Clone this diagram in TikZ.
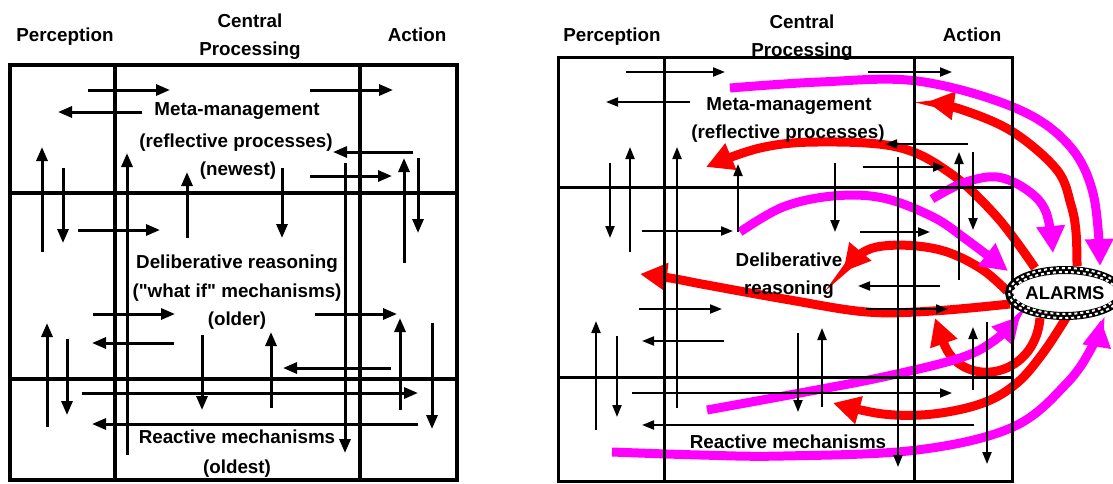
\documentclass[tikz,border=0pt]{standalone}
\usepackage{fontspec}
\setmainfont{Liberation Sans}[Ligatures=TeXOff]
\usetikzlibrary{arrows.meta,shapes.geometric}
\definecolor{mag}{RGB}{255,0,255}
\definecolor{rd}{RGB}{255,0,0}
\begin{document}
\begin{tikzpicture}[x=1pt,y=-1pt,
  lbl/.style={font=\bfseries\fontsize{18.8}{22}\selectfont, inner sep=0pt, anchor=base},
  gridL/.style={line width=4pt},
  arL/.style={line width=3pt,-{Triangle[length=14pt,width=11pt]}},
  gridR/.style={line width=3pt},
  arR/.style={line width=2pt,-{Triangle[length=12pt,width=9pt]}},
  big/.style={line width=9pt,-{Triangle[length=27pt,width=27pt]}},
  sm/.style={smooth,tension=0.6}
]
\useasboundingbox (0,0) rectangle (1113,483);

% ---------------- LEFT PANEL ----------------
\draw[gridL] (10,65) rectangle (457,480);
\draw[gridL] (115,65) -- (115,480);
\draw[gridL] (360,65) -- (360,480);
\draw[gridL] (10,193) -- (457,193);
\draw[gridL] (10,379) -- (457,379);

\draw[arL] (88,90) -- (170,90);
\draw[arL] (142,112) -- (58,112);
\draw[arL] (310,90) -- (393,90);
\draw[arL] (413,152) -- (333,152);
\draw[arL] (310,176) -- (392,176);
\draw[arL] (42,252) -- (42,147);
\draw[arL] (63,168) -- (63,243);
\draw[arL] (127,455) -- (127,153);
\draw[arL] (187,238) -- (187,172);
\draw[arL] (282,168) -- (282,238);
\draw[arL] (345,163) -- (345,453);
\draw[arL] (404,263) -- (404,158);
\draw[arL] (418,158) -- (418,233);
\draw[arL] (78,230) -- (160,230);
\draw[arL] (93,314) -- (175,314);
\draw[arL] (315,314) -- (397,314);
\draw[arL] (47,427) -- (47,323);
\draw[arL] (67,339) -- (67,415);
\draw[arL] (174,343) -- (92,343);
\draw[arL] (202,335) -- (202,410);
\draw[arL] (271,408) -- (271,332);
\draw[arL] (400,410) -- (400,318);
\draw[arL] (432,323) -- (432,429);
\draw[arL] (391,368) -- (283,368);
\draw[arL] (82,393) -- (418,393);
\draw[arL] (418,424) -- (92,424);

\node[lbl] (lper) at (65,41) {Perception};
\node[lbl] (lcen1) at (250,27) {Central};
\node[lbl] (lcen2) at (250,55) {Processing};
\node[lbl] (lact) at (417,41) {Action};
\node[lbl] (lmeta1) at (237,115) {Meta-management};
\node[lbl] (lmeta2) at (236,147) {(reflective processes)};
\node[lbl] (lmeta3) at (238,175) {(newest)};
\node[lbl] (ldel1) at (237,268) {Deliberative reasoning};
\node[lbl] (ldel2) at (237,297) {("what if" mechanisms)};
\node[lbl] (ldel3) at (237,325) {(older)};
\node[lbl] (lrea1) at (237,443) {Reactive mechanisms};
\node[lbl] (lrea2) at (237,473) {(oldest)};

% ---------------- RIGHT PANEL: alarm arrows ----------------
\draw[big,rd] plot[sm] coordinates {(1077,266) (1076,232) (1071,205) (1057,170) (1013,132) (963,110) (927,102)};
\draw[big,rd] plot[sm] coordinates {(1035,268) (997,217) (950,173) (897,147) (817,142) (760,148) (706,167)};
\draw[big,rd] plot[sm] coordinates {(1007,291) (983,270) (950,253) (917,246) (883,246) (862,253) (843,272)};
\draw[big,rd] plot[sm] coordinates {(1010,304) (933,311) (867,312) (790,300) (707,285) (670,278) (640,274)};
\draw[big,rd] (1040,318) .. controls (1035,380) and (960,390) .. (935,318);
\draw[big,rd] plot[sm] coordinates {(1066,318) (1043,353) (1017,383) (983,403) (933,414) (883,414) (833,403)};

\draw[big,mag] plot[sm] coordinates {(730,88) (820,82) (917,81) (1013,107) (1067,143) (1093,193) (1100,266)};
\draw[big,mag] plot[sm] coordinates {(740,232) (783,207) (833,196) (883,198) (933,217) (967,240) (1008,271)};
\draw[big,mag] plot[sm] coordinates {(932,199) (963,183) (997,177) (1027,190) (1046,212) (1053,253)};
\draw[big,mag] plot[sm] coordinates {(707,410) (800,393) (883,377) (960,358) (995,340) (1020,316)};
\draw[big,mag] plot[sm] coordinates {(612,452) (700,455) (783,456) (917,450) (1013,427) (1067,383) (1093,345) (1101,320)};

% ---------------- RIGHT PANEL: grid and arrows ----------------
\draw[gridR] (558,57) rectangle (1012,481);
\draw[gridR] (664,57) -- (664,481);
\draw[gridR] (914,57) -- (914,481);
\draw[gridR] (558,187) -- (1012,187);
\draw[gridR] (558,377) -- (1012,377);

\draw[arR] (626,72) -- (725,72);
\draw[arR] (690,102) -- (606,102);
\draw[arR] (868,72) -- (952,72);
\draw[arR] (968,144) -- (885,144);
\draw[arR] (630,252) -- (630,147);
\draw[arR] (610,163) -- (610,238);
\draw[arR] (677,408) -- (677,147);
\draw[arR] (738,232) -- (738,164);
\draw[arR] (835,163) -- (835,232);
\draw[arR] (898,157) -- (898,467);
\draw[arR] (863,167) -- (945,167);
\draw[arR] (959,280) -- (959,152);
\draw[arR] (973,152) -- (973,230);
\draw[arR] (642,231) -- (733,231);
\draw[arR] (860,232) -- (930,232);
\draw[arR] (940,286) -- (858,286);
\draw[arR] (639,309) -- (722,309);
\draw[arR] (866,309) -- (948,309);
\draw[arR] (596,430) -- (596,321);
\draw[arR] (617,336) -- (617,417);
\draw[arR] (724,341) -- (642,341);
\draw[arR] (798,333) -- (798,412);
\draw[arR] (822,407) -- (822,328);
\draw[arR] (973,390) -- (973,327);
\draw[arR] (987,322) -- (987,464);
\draw[arR] (632,393) -- (952,393);
\draw[arR] (974,425) -- (642,425);

\node[lbl] (rper) at (612,41) {Perception};
\node[lbl] (rcen1) at (802,28) {Central};
\node[lbl] (rcen2) at (802,56) {Processing};
\node[lbl] (ract) at (972,41) {Action};
\node[lbl] (rmeta1) at (789,110) {Meta-management};
\node[lbl] (rmeta2) at (788,138) {(reflective processes)};
\node[lbl] (rdel1) at (789,266) {Deliberative};
\node[lbl] (rdel2) at (789,294) {reasoning};
\node[lbl] (rrea) at (788,448) {Reactive mechanisms};

% ALARMS
\node[ellipse, fill=white, draw=black, line width=8pt, minimum width=108pt, minimum height=46pt,
      inner sep=0pt, font=\bfseries\fontsize{18.5}{20}\selectfont] (alarms) at (1065,293) {ALARMS};
\draw[white, line width=2pt, dash pattern=on 3pt off 3pt] (alarms.center) ellipse [x radius=56pt, y radius=25pt];
\draw[white, line width=2pt, dash pattern=on 3pt off 3pt, dash phase=3pt] (alarms.center) ellipse [x radius=52pt, y radius=21pt];
\end{tikzpicture}
\end{document}
